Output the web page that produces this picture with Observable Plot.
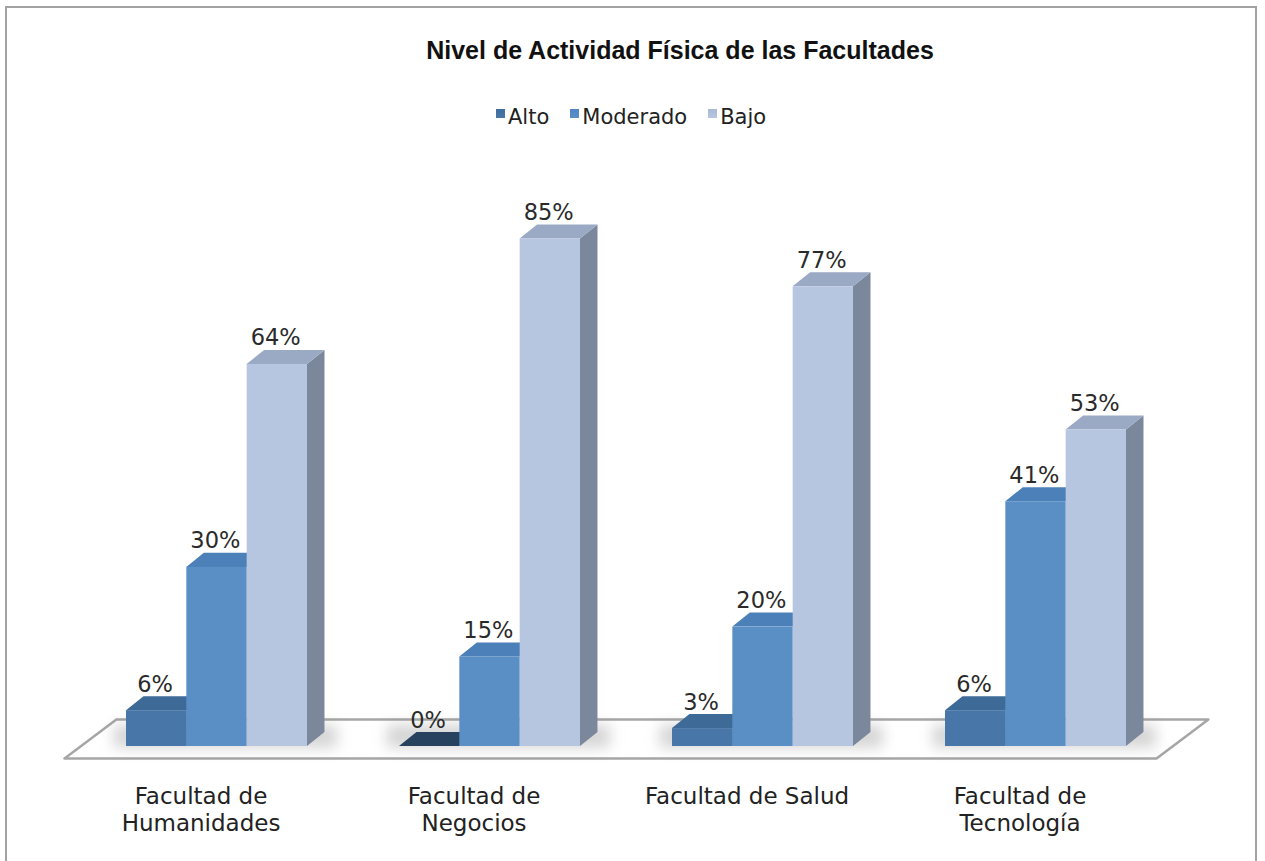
<!DOCTYPE html>
<html>
<head>
<meta charset="utf-8">
<script src="https://cdn.jsdelivr.net/npm/d3@7"></script>
<script src="https://cdn.jsdelivr.net/npm/@observablehq/plot@0.6"></script>
<style>
  html, body { margin: 0; padding: 0; background: #fff; }
  body { width: 1265px; height: 861px; position: relative; overflow: hidden; font-family: "DejaVu Sans", sans-serif; color: #222; }
  #frame { position: absolute; left: 5px; top: 6px; width: 1252px; height: 870px; border: 2px solid #a3a3a3; box-sizing: border-box; }
  #title { position: absolute; left: 0; width: 1360px; top: 36px; text-align: center; font-family: "Liberation Sans", Arial, sans-serif; font-weight: bold; font-size: 25px; color: #111; }
  #legend { position: absolute; left: 496px; top: 105px; font-size: 21px; color: #222; display: flex; align-items: center; white-space: nowrap; }
  #legend .item { display: flex; align-items: center; margin-right: 21px; }
  #legend .sw { width: 9px; height: 9px; margin-right: 3px; margin-top: -8px; }
  #chart { position: absolute; left: 0; top: 140px; }
</style>
</head>
<body>
<div id="frame"></div>
<div id="title">Nivel de Actividad Física de las Facultades</div>
<div id="legend"></div>
<div id="chart"></div>
<script>
// ---- data ----
const facultades = ["Facultad de\nHumanidades", "Facultad de\nNegocios", "Facultad de Salud", "Facultad de\nTecnología"];
const series = ["Alto", "Moderado", "Bajo"];
const alto = [6, 0, 3, 6];
const moderado = [30, 15, 20, 41];
const bajo = [64, 85, 77, 53];

// ---- style ----
const frontColor = {Alto: "#4876a8", Moderado: "#5a8fc6", Bajo: "#b7c6e0"};
const topColor = {Alto: "#3d6a97", Moderado: "#4c80b8", Bajo: "#9aa9c4"};
const sideColor = {Alto: "#36608c", Moderado: "#44719f", Bajo: "#7b879b"};
const legendColor = {Alto: "#3f6fa2", Moderado: "#4d86c6", Bajo: "#aab9d4"};

const values = {Alto: alto, Moderado: moderado, Bajo: bajo};
const W = 0.221;      // bar width (x units = one category)
const DX = 0.064;     // depth in x units
const DY = 2.35;      // depth in y units

const bars = [];
series.forEach((s, j) => {
  values[s].forEach((v, i) => {
    const x1 = i + j * W;
    bars.push({s, i, j, v, x1, x2: x1 + W, id: s + i});
  });
});

const marks = [];
// floor
const floor = [
  {x: -0.227, y: -2.01}, {x: -0.037, y: 4.52}, {x: 3.963, y: 4.52}, {x: 3.773, y: -2.01}, {x: -0.227, y: -2.01}
];
marks.push(Plot.line(floor, {x: "x", y: "y", fill: "#fff", stroke: "#a6a6a6", strokeWidth: 2.5}));
// soft shadows on floor
marks.push(Plot.rect(facultades.map((f, i) => ({i})), {
  x1: d => d.i - 0.045, x2: d => d.i + 3 * W + DX + 0.045, y1: -0.3, y2: DY + 1.2,
  fill: "#888", fillOpacity: 0.35, imageFilter: "blur(7px)"
}));

series.forEach(s => {
  const b = bars.filter(d => d.s === s);
  // side faces
  const side = b.flatMap(d => [
    {id: d.id, x: d.x2, y1: 0, y2: d.v},
    {id: d.id, x: d.x2 + DX, y1: DY, y2: d.v + DY}
  ]);
  marks.push(Plot.areaY(side, {x: "x", y1: "y1", y2: "y2", z: "id", fill: sideColor[s], curve: "linear"}));
  // top faces
  const topF = b.flatMap(d => [
    {id: d.id, v: d.v, x: d.x1, y1: d.v, y2: d.v},
    {id: d.id, v: d.v, x: d.x1 + DX, y1: d.v, y2: d.v + DY},
    {id: d.id, v: d.v, x: d.x2, y1: d.v, y2: d.v + DY},
    {id: d.id, v: d.v, x: d.x2 + DX, y1: d.v + DY, y2: d.v + DY}
  ]);
  marks.push(Plot.areaY(topF, {x: "x", y1: "y1", y2: "y2", z: "id",
    fill: d => d.v === 0 ? "#27425f" : topColor[s], curve: "linear"}));
  // front faces
  marks.push(Plot.rect(b, {x1: "x1", x2: "x2", y1: 0, y2: "v", fill: frontColor[s]}));
});

// value labels
marks.push(Plot.text(bars, {
  x: d => (d.x1 + d.x2) / 2 - 0.006, y: "v", text: d => d.v + "%",
  lineAnchor: "bottom", dy: -19, fontSize: 22.5, fill: "#2a2a2a",
  fontFamily: "DejaVu Sans"
}));
// category labels
marks.push(Plot.text(facultades.map((f, i) => ({f, i})), {
  x: d => d.i + 0.273, y: 0, text: "f", lineAnchor: "top", dy: 38,
  fontSize: 23, lineHeight: 1.17, fill: "#222", fontFamily: "DejaVu Sans"
}));

const chart = Plot.plot({
  width: 1265,
  height: 721,
  marginLeft: 0, marginRight: 0, marginTop: 0, marginBottom: 0,
  x: {type: "linear", domain: [0, 4], range: [126, 1218], axis: null},
  y: {type: "linear", domain: [0, 100], range: [606, 9], axis: null},
  style: {background: "transparent", overflow: "visible"},
  marks
});
document.getElementById("chart").appendChild(chart);

// legend
const lg = document.getElementById("legend");
series.forEach(s => {
  const it = document.createElement("div");
  it.className = "item";
  const sw = document.createElement("div");
  sw.className = "sw";
  sw.style.background = `linear-gradient(${legendColor[s]}, ${frontColor[s]})`;
  it.appendChild(sw);
  const t = document.createElement("span");
  t.textContent = s;
  it.appendChild(t);
  lg.appendChild(it);
});
</script>
</body>
</html>
